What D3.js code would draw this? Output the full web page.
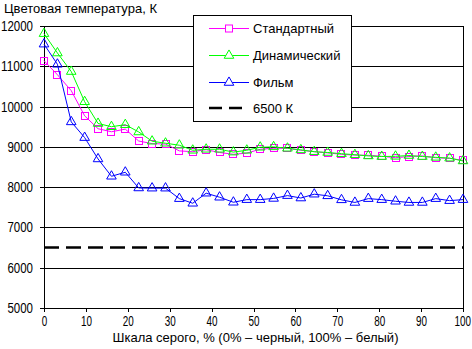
<!DOCTYPE html>
<html><head><meta charset="utf-8">
<script src="https://cdn.jsdelivr.net/npm/d3@7"></script>
<style>
html,body{margin:0;padding:0;background:#fff;}
svg text{font-family:"Liberation Sans",Arial,sans-serif;fill:#000;}
</style></head>
<body><svg id="c" width="472" height="349"></svg>
<script>
const gray = [0,3.2,6.5,9.7,12.9,16.1,19.4,22.6,25.8,29,32.3,35.5,38.7,41.9,45.2,48.4,51.6,54.8,58.1,61.3,64.5,67.7,71,74.2,77.4,80.6,83.9,87.1,90.3,93.5,96.8,100];
const standard = [11140,10790,10395,9770,9450,9375,9440,9145,9080,9070,8900,8880,8930,8860,8815,8845,8940,8965,8965,8915,8880,8850,8815,8795,8790,8765,8730,8760,8775,8730,8715,8665];
const dynamic = [11810,11330,10870,10120,9580,9500,9550,9370,9140,9090,9040,8915,8940,8940,8870,8915,8990,9000,8965,8925,8880,8860,8830,8805,8775,8760,8765,8785,8760,8740,8720,8650];
const film = [11550,11050,9620,9230,8700,8270,8370,7980,7975,7975,7715,7600,7850,7750,7625,7690,7690,7720,7790,7730,7825,7785,7685,7620,7715,7690,7650,7620,7620,7715,7665,7690];
const reference = 6500;
const seriesNames = ["Стандартный","Динамический","Фильм","6500 К"];
const xTicks = [0,10,20,30,40,50,60,70,80,90,100];
const yTicks = [5000,6000,7000,8000,9000,10000,11000,12000];
const title = "Цветовая температура, К";
const xTitle = "Шкала серого, % (0% – черный, 100% – белый)";

const svg = d3.select("#c");
const L=44, R=463, T=26, B=308;
const x = d3.scaleLinear().domain([0,100]).range([L,R]);
const y = d3.scaleLinear().domain([5000,12000]).range([B,T]);

// gridlines
svg.append("g").attr("transform",`translate(${L},0)`)
  .call(d3.axisLeft(y).tickValues(yTicks).tickSize(-(R-L)).tickSizeOuter(0).tickFormat(""))
  .call(g=>g.select(".domain").remove())
  .call(g=>g.selectAll("line").attr("stroke","#000").attr("shape-rendering","crispEdges"));
// y axis
const ya = svg.append("g").attr("transform",`translate(${L},0)`)
  .call(d3.axisLeft(y).tickValues(yTicks).tickSize(4).tickSizeOuter(0).tickPadding(7).tickFormat(d3.format("d")));
// x axis
const xa = svg.append("g").attr("transform",`translate(0,${B})`)
  .call(d3.axisBottom(x).tickValues(xTicks).tickSize(4).tickSizeOuter(0).tickPadding(4).tickFormat(d3.format("d")));
[[ya,6.4],[xa,5.5]].forEach(([a,w])=>{
  a.selectAll("line,path").attr("stroke","#000").attr("shape-rendering","crispEdges");
  a.selectAll("text").style("font-size","14px")
    .attr("textLength",function(){return this.textContent.length*w;})
    .attr("lengthAdjust","spacingAndGlyphs");
});
xa.selectAll(".tick").filter(d=>d===100).select("text").attr("text-anchor","end").attr("x",7.5);
// right border
svg.append("line").attr("x1",R).attr("x2",R).attr("y1",T).attr("y2",B).attr("stroke","#000").attr("shape-rendering","crispEdges");

// reference line
svg.append("line").attr("x1",L).attr("x2",R).attr("y1",y(reference)).attr("y2",y(reference))
  .attr("stroke","#000").attr("stroke-width",2.5).attr("stroke-dasharray","15,7");

const tri = d3.symbol().type(d3.symbolTriangle).size(40);
function drawSeries(vals,color,marker){
  const pts = vals.map((v,i)=>[x(gray[i]),y(v)]);
  svg.append("path").attr("d",d3.line()(pts)).attr("fill","none").attr("stroke",color).attr("stroke-width",1);
  const g = svg.append("g");
  pts.forEach(p=>{
    if(marker==="square"){
      g.append("rect").attr("x",Math.round(p[0])-3.5).attr("y",Math.round(p[1])-3.5).attr("width",7).attr("height",7)
        .attr("fill","none").attr("stroke",color);
    } else {
      g.append("path").attr("d",tri()).attr("transform",`translate(${p[0]},${p[1]})`)
        .attr("fill","none").attr("stroke",color);
    }
  });
}
drawSeries(standard,"#ff00ff","square");
drawSeries(dynamic,"#00ff00","tri");
drawSeries(film,"#0000ff","tri");

// title
svg.append("text").attr("x",4).attr("y",13).style("font-size","13px").text(title);
svg.append("text").attr("x",(L+R)/2+2).attr("y",342).attr("text-anchor","middle").style("font-size","13px").text(xTitle);

// legend
const lg = svg.append("g");
lg.append("rect").attr("x",193.5).attr("y",15.5).attr("width",158).attr("height",106)
  .attr("fill","#fff").attr("stroke","#000");
const rows=[28,55,82,108];
const cols=["#ff00ff","#00ff00","#0000ff","#000"];
rows.forEach((ry,i)=>{
  if(i<3){
    lg.append("line").attr("x1",209).attr("x2",249).attr("y1",ry+0.5).attr("y2",ry+0.5).attr("stroke",cols[i]);
    if(i===0) lg.append("rect").attr("x",225.5).attr("y",ry-3).attr("width",7).attr("height",7).attr("fill","#fff").attr("stroke",cols[i]);
    else lg.append("path").attr("d",tri()).attr("transform",`translate(229,${ry+0.5})`).attr("fill","#fff").attr("stroke",cols[i]);
  } else {
    lg.append("line").attr("x1",209).attr("x2",249).attr("y1",ry).attr("y2",ry).attr("stroke","#000").attr("stroke-width",2.5).attr("stroke-dasharray","13,7");
  }
  lg.append("text").attr("x",253).attr("y",ry+5).style("font-size","13px").text(seriesNames[i]);
});
</script></body></html>
